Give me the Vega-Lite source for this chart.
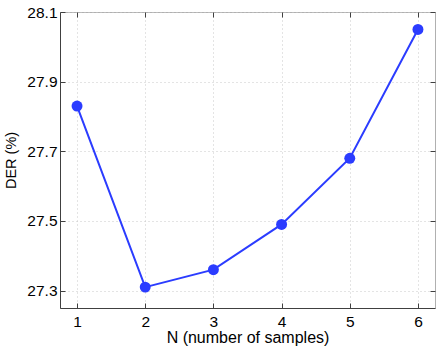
{
  "$schema": "https://vega.github.io/schema/vega-lite/v6.json",
  "width": 375,
  "height": 296,
  "autosize": "none",
  "padding": {"left": 60, "top": 12, "right": 4, "bottom": 40},
  "background": "white",
  "config": {
    "view": {"stroke": "#b0b0b0", "strokeWidth": 1},
    "font": "Liberation Sans",
    "axis": {
      "labelFont": "Liberation Sans",
      "titleFont": "Liberation Sans",
      "labelFontSize": 15.5,
      "titleFontSize": 16,
      "labelColor": "#000",
      "titleColor": "#000",
      "titleFontWeight": "normal",
      "domainColor": "#404040",
      "tickColor": "#404040",
      "gridColor": "#c8c8c8",
      "gridDash": [1, 3],
      "tickSize": -5
    }
  },
  "data": {"values": [
    {"N": 1, "DER": 27.83},
    {"N": 2, "DER": 27.31},
    {"N": 3, "DER": 27.36},
    {"N": 4, "DER": 27.49},
    {"N": 5, "DER": 27.68},
    {"N": 6, "DER": 28.05}
  ]},
  "resolve": {"axis": {"x": "independent", "y": "independent"}},
  "layer": [
    {
      "mark": {"type": "line", "color": "#2b3cff", "strokeWidth": 2},
      "encoding": {
        "x": {"field": "N", "type": "quantitative",
          "scale": {"domain": [0.75, 6.25], "nice": false, "zero": false},
          "axis": {"values": [1,2,3,4,5,6], "title": "N (number of samples)", "labelPadding": 11, "titlePadding": 0, "format": "d"}},
        "y": {"field": "DER", "type": "quantitative",
          "scale": {"domain": [27.25, 28.1], "nice": false, "zero": false},
          "axis": {"values": [27.3, 27.5, 27.7, 27.9, 28.1], "title": "DER (%)", "titleFontSize": 14.5, "labelPadding": 8, "titlePadding": 8, "format": ".1f"}}
      }
    },
    {
      "mark": {"type": "point", "filled": true, "color": "#2b3cff", "opacity": 1, "size": 120},
      "encoding": {
        "x": {"field": "N", "type": "quantitative",
          "scale": {"domain": [0.75, 6.25], "nice": false, "zero": false},
          "axis": {"orient": "top", "values": [1,2,3,4,5,6], "labels": false, "title": null, "grid": false, "domain": false}},
        "y": {"field": "DER", "type": "quantitative",
          "scale": {"domain": [27.25, 28.1], "nice": false, "zero": false},
          "axis": {"orient": "right", "values": [27.3, 27.5, 27.7, 27.9, 28.1], "labels": false, "title": null, "grid": false, "domain": false}}
      }
    }
  ]
}
